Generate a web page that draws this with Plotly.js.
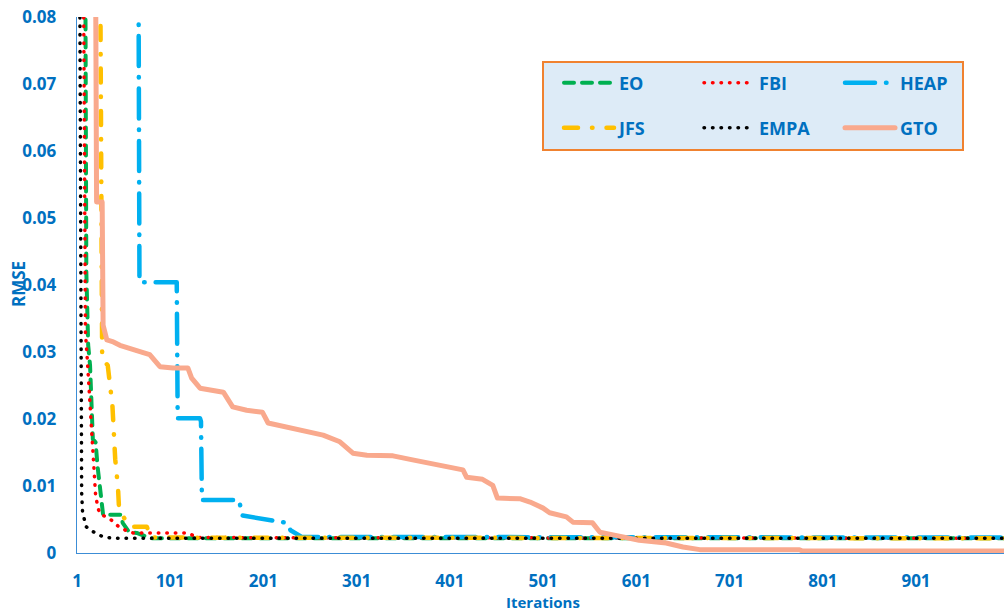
<!DOCTYPE html>
<html>
<head>
<meta charset="utf-8">
<script src="https://cdn.plot.ly/plotly-3.0.1.min.js"></script>
<style>
  html, body { margin: 0; padding: 0; background: #ffffff; }
  #chart { width: 1004px; height: 611px; }
  /* rounded dash ends and round dots */
  #chart path.js-line, #chart .legendlines path { stroke-linecap: round; stroke-linejoin: round; }
</style>
</head>
<body>
<div id="chart"></div>
<script>
// Convergence curves: RMSE per iteration for each optimiser
const eoIter   = [10, 11, 13, 15, 18, 21, 23, 26, 28, 29, 48, 50, 57, 65, 80, 1000];
const eoRmse   = [0.085, 0.042, 0.031, 0.028, 0.017, 0.0165, 0.013, 0.009, 0.0064, 0.0057, 0.0057, 0.0045, 0.0031, 0.003, 0.0022, 0.0022];

const fbiIter  = [8, 10, 12, 15, 17, 19, 21, 24, 26, 32, 38, 46, 53, 61, 120, 130, 1000];
const fbiRmse  = [0.085, 0.033, 0.029, 0.022, 0.016, 0.011, 0.0085, 0.0065, 0.0058, 0.0054, 0.0049, 0.0039, 0.0034, 0.0030, 0.0030, 0.0023, 0.0022];

const heapIter = [67, 68, 108, 109, 133, 134, 135, 175, 178, 199, 215, 226, 230, 242, 1000];
const heapRmse = [0.085, 0.0404, 0.0404, 0.0201, 0.0201, 0.0196, 0.0079, 0.0079, 0.0056, 0.0051, 0.0048, 0.0045, 0.0034, 0.0024, 0.0023];

const jfsIter  = [26, 28, 34, 36, 39, 42, 44, 45, 46, 50, 54, 61, 76, 80, 1000];
const jfsRmse  = [0.085, 0.029, 0.028, 0.026, 0.022, 0.014, 0.0116, 0.0097, 0.0069, 0.0057, 0.0045, 0.0039, 0.0039, 0.0023, 0.0022];

const empaIter = [4, 5, 6, 7, 8, 11, 18, 29, 40, 1000];
const empaRmse = [0.085, 0.03, 0.009, 0.006, 0.0054, 0.0039, 0.0032, 0.0024, 0.0022, 0.0022];

const gtoIter  = [21, 22, 28, 29, 33, 40, 47, 58, 65, 72, 79, 87, 90, 104, 120, 124, 133, 158, 168, 183, 200, 206, 219, 248, 265, 283, 297, 312, 340, 361, 383, 404, 415, 419, 436, 447, 452, 476, 487, 501, 508, 526, 533, 554, 562, 576, 604, 633, 651, 669, 776, 779, 1000];
const gtoRmse  = [0.085, 0.0524, 0.0524, 0.034, 0.0318, 0.0315, 0.031, 0.0306, 0.0303, 0.0299, 0.0296, 0.0284, 0.0278, 0.0276, 0.0276, 0.0261, 0.0246, 0.024, 0.0218, 0.0213, 0.021, 0.0194, 0.019, 0.0181, 0.0176, 0.0166, 0.0149, 0.0146, 0.0145, 0.0139, 0.0133, 0.0128, 0.0124, 0.0113, 0.011, 0.0101, 0.0082, 0.0081, 0.0076, 0.0067, 0.006, 0.0054, 0.0046, 0.0045, 0.0031, 0.0027, 0.0019, 0.0015, 0.0009, 0.0005, 0.0005, 0.0003, 0.0003];

const seriesNames = ['EO', 'FBI', 'HEAP', 'JFS', 'EMPA', 'GTO'];
const tickIters   = [1, 101, 201, 301, 401, 501, 601, 701, 801, 901];
const tickLabels  = ['1', '101', '201', '301', '401', '501', '601', '701', '801', '901'];

const BLUE = '#0070C0';
const FONT = 'Open Sans, Lato, sans-serif';

// dash lengths are given for round line caps
const styles = [
  { color: '#00B050', width: 4,   dash: '10px,8px' },
  { color: '#FF0000', width: 3.5, dash: '0.5px,8px' },
  { color: '#00B0F0', width: 4.5, dash: '30px,11px,0.5px,11px' },
  { color: '#FFC000', width: 4.5, dash: '14px,14px,0.5px,14px' },
  { color: '#000000', width: 3.5, dash: '0.5px,8px' },
  { color: '#F9A98D', width: 5,   dash: 'solid' }
];

const xs = [eoIter, fbiIter, heapIter, jfsIter, empaIter, gtoIter];
const ys = [eoRmse, fbiRmse, heapRmse, jfsRmse, empaRmse, gtoRmse];
const legendIds = ['legend', 'legend2', 'legend3', 'legend4', 'legend5', 'legend6'];

const traces = seriesNames.map((name, i) => ({
  type: 'scatter',
  mode: 'lines',
  name: name,
  x: xs[i],
  y: ys[i],
  line: { color: styles[i].color, width: styles[i].width, dash: styles[i].dash },
  legend: legendIds[i],
  hoverinfo: 'skip'
}));

// Legend grid: three columns, two rows, inside a shaded frame
const W = 927, H = 536, L = 77, T = 17;
const px2x = p => (p - L) / W;
const py2y = p => (T + H - p) / H;
const colLeft = [559, 699, 840];
const rowMid  = [83, 128];

const legendFont = { family: FONT, size: 18, color: BLUE, weight: 'bold' };
const legends = {};
legendIds.forEach((id, i) => {
  legends[id] = {
    x: px2x(colLeft[i % 3]),
    y: py2y(rowMid[Math.floor(i / 3)]),
    xanchor: 'left',
    yanchor: 'middle',
    bgcolor: 'rgba(0,0,0,0)',
    borderwidth: 0,
    itemwidth: 50,
    font: legendFont
  };
});

const layout = Object.assign({
  width: 1004,
  height: 611,
  margin: { l: L, r: 0, t: T, b: 611 - T - H },
  paper_bgcolor: '#ffffff',
  plot_bgcolor: '#ffffff',
  showlegend: true,
  xaxis: {
    range: [1, 995.4],
    tickvals: tickIters,
    ticktext: tickLabels,
    showgrid: false,
    zeroline: false,
    showline: true,
    linecolor: '#3C8DD6',
    linewidth: 1.3,
    ticks: '',
    ticklabelstandoff: 12,
    tickfont: { family: FONT, size: 17, color: BLUE, weight: 'bold' }
  },
  yaxis: {
    range: [0, 0.08],
    dtick: 0.01,
    showgrid: false,
    zeroline: false,
    showline: true,
    linecolor: '#3C8DD6',
    linewidth: 1.3,
    ticks: '',
    ticklabelstandoff: 16,
    tickfont: { family: FONT, size: 17, color: BLUE, weight: 'bold' }
  },
  shapes: [{
    type: 'rect',
    xref: 'paper', yref: 'paper',
    x0: px2x(543), x1: px2x(963),
    y0: py2y(150), y1: py2y(62),
    fillcolor: '#DDEBF7',
    line: { color: '#F08230', width: 2 },
    layer: 'above'
  }],
  annotations: [
    {
      text: 'Iterations', xref: 'paper', yref: 'paper',
      x: px2x(543), y: py2y(602), xanchor: 'center', yanchor: 'middle',
      showarrow: false,
      font: { family: FONT, size: 15, color: BLUE, weight: 'bold' }
    },
    {
      text: 'RMSE', xref: 'paper', yref: 'paper',
      x: px2x(18), y: py2y(284), xanchor: 'center', yanchor: 'middle',
      textangle: -90, showarrow: false,
      font: { family: FONT, size: 17, color: BLUE, weight: 'bold' }
    }
  ]
}, legends);

Plotly.newPlot('chart', traces, layout, { displayModeBar: false, staticPlot: true });
</script>
</body>
</html>
